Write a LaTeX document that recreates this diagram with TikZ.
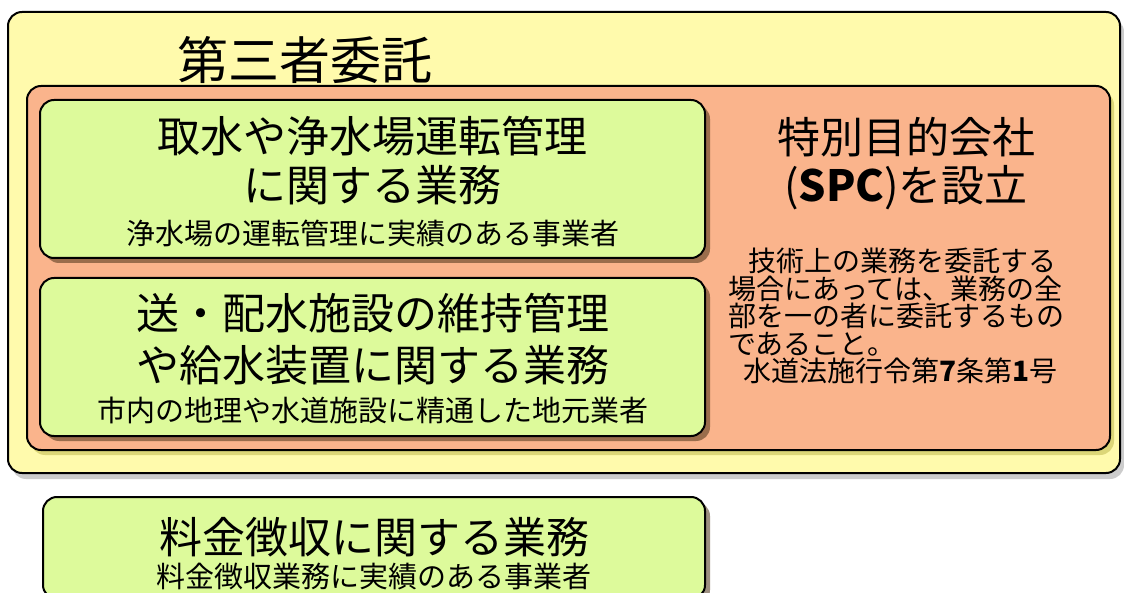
\documentclass[tikz,border=0pt]{standalone}
\usepackage{fontspec}
\setmainfont{Noto Sans CJK JP}
\usetikzlibrary{shadows}
\definecolor{consignyellow}{RGB}{255,250,172}
\definecolor{spcsalmon}{RGB}{250,180,140}
\definecolor{taskgreen}{RGB}{221,250,155}
\tikzset{
  panel/.style={draw=black, line width=2pt, rounded corners=14pt, inner sep=0pt},
  taskbox/.style={panel, fill=taskgreen, minimum width=665pt, minimum height=158pt,
    drop shadow={shadow xshift=5pt, shadow yshift=-5pt, opacity=0.55, fill=black!60!brown}},
  bigtext/.style={align=center, font=\fontsize{43}{49}\selectfont, inner sep=0pt},
  subtext/.style={font=\fontsize{29}{32}\selectfont, inner sep=0pt}
}
\begin{document}
\begin{tikzpicture}[x=1pt,y=-1pt]
    \useasboundingbox[fill=white] (0,0) rectangle (1124,593);
    % outer frame and SPC frame
    \node[panel, fill=consignyellow, minimum width=1112pt, minimum height=461pt,
      drop shadow={shadow xshift=4pt, shadow yshift=-6pt, opacity=0.4}] (consign) at (564,242.5) {};
    \node[panel, fill=spcsalmon, minimum width=1083pt, minimum height=364pt,
      drop shadow={shadow xshift=4pt, shadow yshift=-5pt, opacity=0.3, fill=olive}] (spc) at (568.5,268) {};
    \node[font=\fontsize{51}{56}\selectfont] (title) at (305,60) {第三者委託};
    % tasks
    \node[taskbox] (intake) at (372.5,179) {};
    \node[bigtext] (intakemain) at (372.5,161) {取水や浄水場運転管理\\に関する業務};
    \node[subtext] (intakesub) at (372.5,233) {浄水場の運転管理に実績のある事業者};
    \node[taskbox] (pipes) at (372.5,357) {};
    \node[bigtext, font=\fontsize{43}{52}\selectfont] (pipesmain) at (372.5,339) {送・配水施設の維持管理\\や給水装置に関する業務};
    \node[subtext] (pipessub) at (372.5,410) {市内の地理や水道施設に精通した地元業者};
    \node[taskbox, minimum width=662pt, minimum height=102pt] (billing) at (374,548) {};
    \node[bigtext] (billingmain) at (374,537) {料金徴収に関する業務};
    \node[subtext] (billingsub) at (374,577) {料金徴収業務に実績のある事業者};
    % SPC text
    \node[bigtext, font=\fontsize{43}{48}\selectfont] (spctitle) at (906,164) {特別目的会社\\({\bfseries SPC})を設立};
    \node[anchor=north west, align=left, inner sep=0pt, font=\fontsize{28}{27.5}\selectfont] (rule) at (728,248)
      {\hspace*{20pt}技術上の業務を委託する\\場合にあっては、業務の全\\部を一の者に委託するもの\\であること。\\\hspace*{15pt}水道法施行令第{\bfseries 7}条第{\bfseries 1}号};
\end{tikzpicture}
\end{document}
